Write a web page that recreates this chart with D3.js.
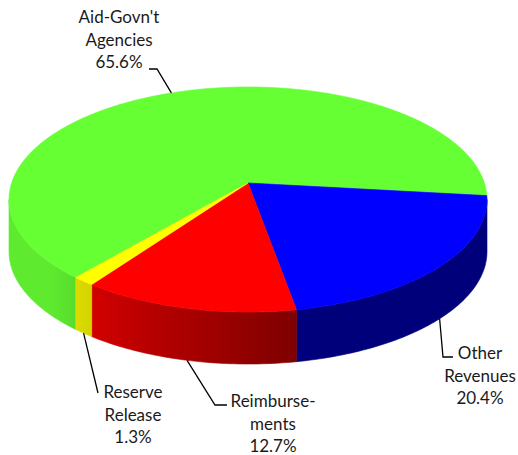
<!DOCTYPE html>
<html>
<head>
<meta charset="utf-8">
<script src="https://cdn.jsdelivr.net/npm/d3@7"></script>
<style>
  body { margin: 0; background: #fff; }
  svg text { font-family: Lato, "Open Sans", sans-serif; font-size: 17px; fill: #1a1a1a; }
</style>
</head>
<body>
<svg id="chart" width="518" height="455"></svg>
<script>
// Revenue shares, in percent
const categories = ["Aid-Govn't Agencies", "Other Revenues", "Reimbursements", "Reserve Release"];
const labelLines = [["Aid-Govn't", "Agencies"], ["Other", "Revenues"], ["Reimburse-", "ments"], ["Reserve", "Release"]];
const values = [65.6, 20.4, 12.7, 1.3];
const colors = ["#66ff33", "#0000ff", "#ff0000", "#ffff00"];

// Label placement: leader knee/end points and text centre + first baseline
const labelLayout = [
  { anchor: "top",    knee: [157, 69],  end: [149, 69],  tx: 119, ty: 23 },
  { anchor: "bottom", knee: [443, 357], end: [453, 357], tx: 480, ty: 359 },
  { anchor: "bottom", knee: [215, 405], end: [227, 405], tx: 273, ty: 407 },
  { anchor: "bottom", knee: null,       end: [98, 393],  tx: 133, ty: 398 }
];

const svg = d3.select("#chart");

// Perspective disc: pie centre, horizontal/vertical radii, perspective factor, wall depth
const cx = 248, cy = 183, A = 236.4, B = 110.1, k = 0.1467, depth = 52;
const deg = Math.PI / 180;

// angle: clockwise from 12 o'clock (d3.pie convention)
function proj(a, dy = 0) {
  const u = Math.sin(a), v = Math.cos(a);
  const w = 1 + k * v;
  return [cx + A * u / w, cy - B * v / w + dy];
}

const startDeg = 220.3;
const pie = d3.pie().sort(null).value(d => d)
  .startAngle(startDeg * deg).endAngle(startDeg * deg + 2 * Math.PI);
const arcs = pie(values).map((d, i) => ({ ...d, i }));

// Shading of the outer wall according to its facing direction
function shadeFactor(a) {
  let dgr = ((a / deg) % 360 + 360) % 360;
  return Math.max(0.48, Math.min(0.92, 0.5 + (dgr - 170) * 0.0072));
}
function shade(col, f) {
  const c = d3.rgb(col);
  return d3.rgb(c.r * f, c.g * f, c.b * f).formatHex();
}

// Front-facing range of the wall
const visLo = (90 + Math.asin(k) / deg) * deg;
const visHi = (270 - Math.asin(k) / deg) * deg;

const defs = svg.append("defs");
const wallG = svg.append("g");
const topG = svg.append("g");

function rimPath(a0, a1, dy, n) {
  const pts = [];
  for (let j = 0; j <= n; j++) pts.push(proj(a0 + (a1 - a0) * j / n, dy));
  return pts;
}

arcs.forEach(d => {
  // walls: intersect slice range with the visible front range (check both turns)
  [0, -2 * Math.PI, 2 * Math.PI].forEach(off => {
    const a0 = Math.max(d.startAngle + off, visLo);
    const a1 = Math.min(d.endAngle + off, visHi);
    if (a1 <= a0) return;
    const n = Math.max(4, Math.ceil((a1 - a0) / deg));
    const top = rimPath(a0, a1, 0, n);
    const bot = rimPath(a0, a1, depth, n).reverse();
    const id = "wall" + d.i + "_" + Math.round(off * 10);
    const x0 = proj(a0)[0], x1 = proj(a1)[0];
    const grad = defs.append("linearGradient").attr("id", id)
      .attr("gradientUnits", "userSpaceOnUse")
      .attr("x1", x0).attr("x2", x1).attr("y1", 0).attr("y2", 0);
    const steps = 12;
    for (let s = 0; s <= steps; s++) {
      const a = a0 + (a1 - a0) * s / steps;
      const x = proj(a)[0];
      const o = x1 === x0 ? 0 : (x - x0) / (x1 - x0);
      grad.append("stop").attr("offset", Math.max(0, Math.min(1, o)))
        .attr("stop-color", shade(colors[d.i], shadeFactor(a)));
    }
    wallG.append("path")
      .attr("d", "M" + top.concat(bot).map(p => p.join(",")).join("L") + "Z")
      .attr("fill", "url(#" + id + ")")
      .attr("stroke", "url(#" + id + ")").attr("stroke-width", 0.6);
  });

  // top face
  const n = Math.max(4, Math.ceil((d.endAngle - d.startAngle) / deg) * 2);
  const rim = rimPath(d.startAngle, d.endAngle, 0, n);
  topG.append("path")
    .attr("d", "M" + cx + "," + cy + "L" + rim.map(p => p.join(",")).join("L") + "Z")
    .attr("fill", colors[d.i])
    .attr("stroke", colors[d.i]).attr("stroke-width", 0.6).attr("stroke-linejoin", "round");
});

// Leader lines and labels
const labelG = svg.append("g");
arcs.forEach(d => {
  const L = labelLayout[d.i];
  const mid = (d.startAngle + d.endAngle) / 2;
  const start = L.anchor === "top" ? proj(mid) : proj(mid, depth);
  const pts = [start];
  if (L.knee) pts.push(L.knee);
  pts.push(L.end);
  labelG.append("path")
    .attr("d", d3.line()(pts))
    .attr("fill", "none").attr("stroke", "#000").attr("stroke-width", 1.3);

  const lines = labelLines[d.i].concat([d3.format(".1f")(d.data) + "%"]);
  const t = labelG.append("text").attr("text-anchor", "middle");
  lines.forEach((s, j) => {
    t.append("tspan").attr("x", L.tx).attr("y", L.ty + j * 22.5).text(s);
  });
});
</script>
</body>
</html>
